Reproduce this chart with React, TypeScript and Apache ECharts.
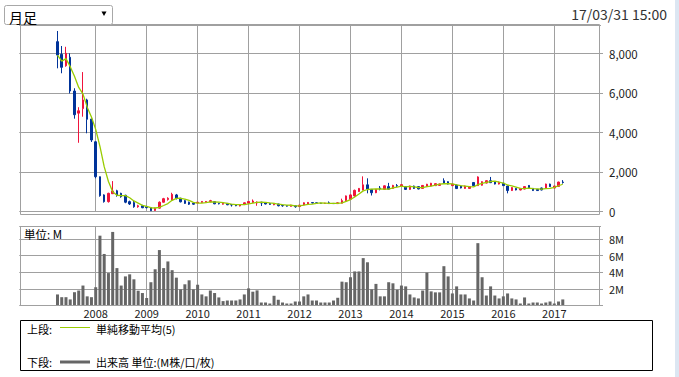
import React, { useEffect, useRef } from "react";
import * as echarts from "echarts";

// Monthly axis: Jul 2006 .. Dec 2017 (empty months pad both ends like the reference)
const AXIS_START_YEAR = 2006;
const AXIS_START_MONTH = 7;
const AXIS_MONTHS = 138;
// First traded month (Apr 2007) index on the axis
const DATA_START_INDEX = 9;
// First year that gets a gridline and label
const FIRST_LABEL_YEAR = 2008;

// [open, close, low, high] per month, Apr 2007 .. Mar 2017
const ohlc: number[][] = [
  [8610, 7930, 7260, 9150], [7970, 7310, 7010, 8390], [7390, 8020, 7340, 8350], [7820, 6110, 5990, 8020],
  [6110, 4910, 4710, 6250], [4990, 5110, 3490, 5290], [5220, 5660, 4810, 7070], [5660, 4680, 3970, 5720],
  [4690, 3630, 3530, 4700], [3540, 1770, 1690, 3560], [1770, 810, 760, 1780], [850, 510, 460, 880],
  [510, 930, 460, 960], [910, 1050, 910, 1550], [1060, 850, 760, 1110], [930, 760, 710, 960],
  [830, 480, 430, 860], [510, 390, 340, 560], [460, 250, 200, 560], [250, 300, 200, 350],
  [300, 200, 180, 350], [255, 205, 170, 300], [205, 50, 40, 230], [60, 180, 40, 200],
  [180, 480, 160, 520], [480, 660, 460, 700], [620, 680, 560, 730], [590, 880, 560, 960],
  [850, 680, 620, 900], [680, 500, 470, 700], [560, 420, 400, 600], [480, 380, 340, 510],
  [430, 380, 350, 450], [440, 480, 420, 500], [470, 520, 450, 540], [480, 520, 460, 540],
  [500, 560, 480, 600], [510, 400, 380, 540], [420, 400, 370, 450], [380, 420, 360, 440],
  [420, 350, 330, 430], [360, 340, 260, 380], [350, 300, 280, 360], [290, 360, 270, 380],
  [360, 450, 350, 470], [430, 520, 420, 540], [460, 540, 440, 620], [440, 490, 300, 520],
  [480, 440, 290, 500], [460, 390, 370, 480], [420, 370, 350, 440], [350, 420, 330, 440],
  [390, 300, 270, 400], [320, 300, 250, 340], [310, 280, 260, 330], [270, 330, 260, 350],
  [300, 250, 200, 310], [260, 330, 250, 350], [340, 450, 330, 470], [390, 470, 380, 490],
  [460, 440, 420, 480], [450, 430, 400, 470], [430, 420, 400, 450], [420, 430, 400, 450],
  [450, 410, 390, 520], [420, 410, 390, 440], [410, 450, 400, 470], [430, 560, 420, 660],
  [560, 800, 540, 820], [630, 850, 610, 870], [800, 1080, 760, 1120], [1020, 1180, 1000, 1200],
  [1100, 1360, 1080, 1790], [1360, 1150, 930, 1690], [1130, 960, 820, 1150], [960, 1130, 940, 1150],
  [1200, 1150, 1080, 1300], [1130, 1310, 1100, 1330], [1270, 1140, 1120, 1460], [1180, 1330, 1150, 1360],
  [1320, 1300, 1260, 1400], [1300, 1370, 1270, 1390], [1270, 1130, 1100, 1300], [1130, 1300, 1110, 1320],
  [1300, 1180, 1150, 1320], [1270, 1150, 1130, 1290], [1180, 1330, 1160, 1350], [1270, 1390, 1250, 1410],
  [1300, 1440, 1280, 1460], [1320, 1420, 1300, 1440], [1330, 1400, 1310, 1420], [1570, 1430, 1410, 1690],
  [1520, 1400, 1380, 1540], [1320, 1400, 1300, 1420], [1350, 1170, 1150, 1370], [1300, 1200, 1180, 1320],
  [1180, 1300, 1160, 1320], [1180, 1270, 1160, 1290], [1480, 1320, 1300, 1500], [1320, 1760, 1300, 1790],
  [1340, 1520, 1320, 1540], [1450, 1570, 1430, 1590], [1570, 1470, 1450, 1760], [1500, 1400, 1380, 1520],
  [1400, 1500, 1380, 1520], [1440, 1320, 1300, 1460], [1300, 1070, 930, 1320], [1070, 1220, 1050, 1240],
  [1180, 1100, 1080, 1200], [1100, 1180, 1080, 1200], [1150, 1270, 1130, 1290], [1330, 1200, 1180, 1350],
  [1180, 1070, 1050, 1200], [1130, 1070, 1050, 1150], [1200, 1100, 1080, 1220], [1200, 1400, 1180, 1420],
  [1400, 1270, 1250, 1420], [1200, 1300, 1180, 1310], [1280, 1500, 1260, 1520], [1500, 1480, 1420, 1600],
];

// Monthly volume (M), Apr 2007 .. Mar 2017
const volumes: number[] = [
  1.33, 1.0, 1.0, 0.73, 1.6, 1.8, 2.4, 1.1, 1.0, 2.2,
  8.4, 6.2, 3.9, 8.85, 4.5, 2.4, 3.5, 3.75, 3.15, 1.78,
  1.5, 0.9, 2.8, 4.36, 6.67, 4.5, 5.3, 4.25, 3.35, 1.94,
  2.55, 3.03, 1.94, 2.5, 1.33, 1.1, 1.8, 1.5, 0.97, 0.53,
  0.6, 0.6, 0.6, 0.73, 1.33, 2.06, 1.66, 1.82, 0.36, 0.36,
  0.24, 1.17, 0.69, 0.36, 0.24, 0.24, 0.48, 0.48, 1.1, 1.33,
  0.6, 0.6, 0.36, 0.36, 0.36, 0.6, 0.93, 2.87, 2.8, 3.4,
  4.1, 4.1, 5.7, 5.2, 1.94, 2.6, 1.1, 1.1, 2.8, 2.67,
  1.9, 2.4, 2.3, 1.33, 0.97, 0.85, 1.8, 3.96, 1.7, 1.58,
  1.58, 4.73, 3.5, 1.45, 2.3, 1.33, 1.33, 0.85, 0.6, 7.5,
  3.4, 1.2, 2.3, 1.2, 0.85, 1.1, 1.45, 0.85, 0.73, 0.24,
  0.97, 0.24, 0.36, 0.36, 0.24, 0.36, 0.48, 0.24, 0.48, 0.73,
];

const MA_PERIOD = 5;
const priceTicks = [0, 2000, 4000, 6000, 8000];
const volumeTicks = [2, 4, 6, 8];

const PERIOD_LABEL = "月足";
const TIMESTAMP = "17/03/31 15:00";
const UNIT_LABEL = "単位: M";
const LEGEND_UPPER = "上段:";
const LEGEND_UPPER_NAME = "単純移動平均(5)";
const LEGEND_LOWER = "下段:";
const LEGEND_LOWER_NAME = "出来高 単位:(M株/口/枚)";

const FONT = '"Noto Sans CJK JP", "Noto Sans", sans-serif';
const UP = "#f0143c";
const DOWN = "#003399";
const MA_COLOR = "#99cc00";
const GRID_COLOR = "#a0a0a0";

function buildCategories(): string[] {
  const out: string[] = [];
  for (let i = 0; i < AXIS_MONTHS; i++) {
    const k = AXIS_START_MONTH - 1 + i;
    const y = AXIS_START_YEAR + Math.floor(k / 12);
    const m = (k % 12) + 1;
    out.push(`${y}-${m < 10 ? "0" + m : m}`);
  }
  return out;
}

export default function App() {
  const ref = useRef<HTMLDivElement>(null);

  useEffect(() => {
    document.body.style.margin = "0";
    if (!ref.current) return;
    const chart = echarts.init(ref.current, undefined, { renderer: "svg" });

    const categories = buildCategories();
    const candleData = ohlc.map((d, i) => [DATA_START_INDEX + i, d[0], d[1], d[2], d[3]]);
    const volumeData = volumes.map((v, i) => [DATA_START_INDEX + i, v]);
    const maData = ohlc.map((_, i) => {
      const from = Math.max(0, i - MA_PERIOD + 1);
      let s = 0;
      for (let j = from; j <= i; j++) s += ohlc[j][1];
      return [DATA_START_INDEX + i, Math.round(s / (i - from + 1))];
    });

    const isYearStart = (_: number, v: string) =>
      typeof v === "string" && v.endsWith("-01") && Number(v.slice(0, 4)) >= FIRST_LABEL_YEAR;

    const gridLeft = 19.27;
    const gridRight = 78;

    const txt = (x: number, y: number, text: string, extra: any = {}) => ({
      type: "text",
      x,
      y,
      z: 11,
      style: {
        text,
        fontSize: 11,
        lineHeight: 12,
        fontFamily: FONT,
        fill: "#000",
        verticalAlign: "middle",
        textVerticalAlign: "middle",
        ...extra,
      },
    });

    const option: any = {
      animation: false,
      backgroundColor: "#ffffff",
      textStyle: { fontFamily: FONT },
      grid: [
        { left: gridLeft, right: gridRight, top: 25, height: 186.7, containLabel: false, outerBoundsMode: "none" },
        { left: gridLeft, right: gridRight, top: 226.7, height: 78.8, containLabel: false, outerBoundsMode: "none" },
      ],
      xAxis: [
        {
          type: "category",
          gridIndex: 0,
          data: categories,
          boundaryGap: false,
          axisLine: { show: false },
          axisTick: { show: false },
          axisLabel: { show: false },
          splitLine: { show: true, interval: isYearStart, lineStyle: { color: GRID_COLOR, width: 1 } },
        },
        {
          type: "category",
          gridIndex: 1,
          data: categories,
          boundaryGap: false,
          axisLine: { show: false },
          axisTick: { show: false },
          axisLabel: {
            show: true,
            interval: isYearStart,
            formatter: (v: string) => v.slice(0, 4),
            fontSize: 11,
            lineHeight: 12,
            color: "#222",
            margin: 1.5,
            fontFamily: FONT,
          },
          splitLine: { show: true, interval: isYearStart, lineStyle: { color: GRID_COLOR, width: 1 } },
        },
      ],
      yAxis: [
        {
          type: "value",
          gridIndex: 0,
          position: "right",
          offset: -2,
          min: 0,
          max: 9453,
          interval: 2000,
          axisLine: { show: false },
          axisTick: { show: true, length: 4, lineStyle: { color: GRID_COLOR } },
          axisLabel: {
            fontSize: 11.5,
            color: "#222",
            margin: 10,
            fontFamily: FONT,
            showMaxLabel: false,
            formatter: (v: number) => (priceTicks.includes(v) ? v.toLocaleString("en-US") : ""),
          },
          splitLine: { show: true, lineStyle: { color: GRID_COLOR, width: 1 } },
        },
        {
          type: "value",
          gridIndex: 1,
          position: "right",
          offset: -2,
          min: 0,
          max: 9.48,
          interval: 2,
          axisLine: { show: false },
          axisTick: { show: true, length: 4, lineStyle: { color: GRID_COLOR } },
          axisLabel: {
            fontSize: 11,
            lineHeight: 12,
            color: "#222",
            margin: 10,
            fontFamily: FONT,
            showMaxLabel: false,
            formatter: (v: number) => (volumeTicks.includes(v) ? `${v}M` : ""),
          },
          splitLine: { show: true, lineStyle: { color: GRID_COLOR, width: 1 } },
        },
      ],
      series: [
        {
          type: "candlestick",
          name: "price",
          xAxisIndex: 0,
          yAxisIndex: 0,
          data: candleData,
          encode: { x: 0, y: [1, 2, 3, 4] },
          barWidth: 2,
          itemStyle: {
            color: UP,
            color0: DOWN,
            borderColor: UP,
            borderColor0: DOWN,
            borderWidth: 1,
          },
          z: 2,
        },
        {
          type: "line",
          name: LEGEND_UPPER_NAME,
          xAxisIndex: 0,
          yAxisIndex: 0,
          data: maData,
          symbol: "none",
          lineStyle: { color: MA_COLOR, width: 1.3 },
          z: 3,
        },
        {
          type: "bar",
          name: "volume",
          xAxisIndex: 1,
          yAxisIndex: 1,
          data: volumeData,
          barWidth: 3,
          itemStyle: { color: "#666666" },
        },
      ],
      graphic: [
        // right page strip
        { type: "rect", shape: { x: 675, y: 0, width: 4, height: 377 }, style: { fill: "#dce6f2" }, z: 0 },
        // main frame
        {
          type: "rect",
          shape: { x: 20.5, y: 24.5, width: 579, height: 190 },
          style: { fill: "none", stroke: GRID_COLOR, lineWidth: 1 },
          z: 10,
        },
        // volume frame
        {
          type: "rect",
          shape: { x: 20.5, y: 226.5, width: 579, height: 79 },
          style: { fill: "none", stroke: GRID_COLOR, lineWidth: 1 },
          z: 10,
        },
        txt(24, 234, UNIT_LABEL, { fontSize: 11.5 }),
        // dropdown
        {
          type: "rect",
          shape: { x: 4.5, y: 5.5, width: 108, height: 19, r: 2 },
          style: { fill: "#fff", stroke: "#a8a8a8", lineWidth: 1 },
          z: 10,
        },
        txt(9, 16.5, PERIOD_LABEL, { fontSize: 14, lineHeight: 16 }),
        {
          type: "polygon",
          shape: { points: [[101.5, 11.5], [106.5, 11.5], [104, 16]] },
          style: { fill: "#000" },
          z: 11,
        },
        // timestamp
        txt(667, 13.5, TIMESTAMP, { fontSize: 14, lineHeight: 16, fill: "#333", align: "right", textAlign: "right" }),
        // legend box
        {
          type: "rect",
          shape: { x: 20.5, y: 320.5, width: 632, height: 50 },
          style: { fill: "#fff", stroke: "#000", lineWidth: 1 },
          z: 10,
        },
        txt(27, 328.5, LEGEND_UPPER),
        {
          type: "line",
          shape: { x1: 60, y1: 327.5, x2: 90, y2: 327.5 },
          style: { stroke: MA_COLOR, lineWidth: 1 },
          z: 11,
        },
        txt(96, 328.5, LEGEND_UPPER_NAME),
        txt(27, 362, LEGEND_LOWER),
        {
          type: "line",
          shape: { x1: 60, y1: 362, x2: 90, y2: 362 },
          style: { stroke: "#666", lineWidth: 3 },
          z: 11,
        },
        txt(96, 362, LEGEND_LOWER_NAME),
      ],
    };

    chart.setOption(option);
    return () => chart.dispose();
  }, []);

  return <div ref={ref} style={{ width: 679, height: 377, background: "#fff" }} />;
}
